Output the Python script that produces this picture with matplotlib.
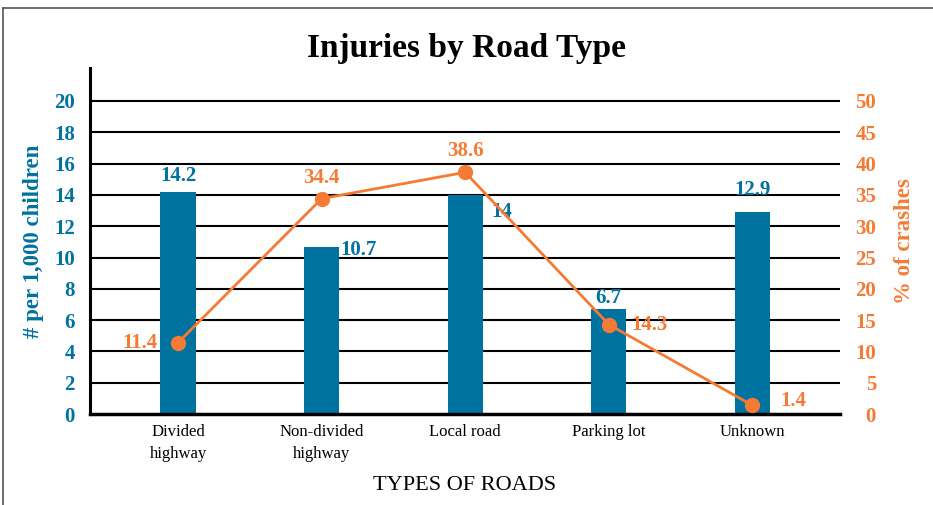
import matplotlib
matplotlib.use("Agg")
import matplotlib.pyplot as plt
from matplotlib.lines import Line2D

categories = ["Divided\nhighway", "Non-divided\nhighway", "Local road", "Parking lot", "Unknown"]
injuries = [14.2, 10.7, 14.0, 6.7, 12.9]
crashes = [11.4, 34.4, 38.6, 14.3, 1.4]
injury_labels = ["14.2", "10.7", "14", "6.7", "12.9"]
crash_labels = ["11.4", "34.4", "38.6", "14.3", "1.4"]
left_ticks = [0, 2, 4, 6, 8, 10, 12, 14, 16, 18, 20]
right_ticks = [0, 5, 10, 15, 20, 25, 30, 35, 40, 45, 50]

BLUE = "#0072A0"
ORANGE = "#F57B35"
SERIF = ["Liberation Serif", "DejaVu Serif"]

fig = plt.figure(figsize=(9.33, 5.05), dpi=100)
ax = fig.add_axes([0.0965, 0.180, 0.8038, 0.6853])
x = list(range(len(categories)))

BAR_W = 0.245
ax.set_xlim(-0.613, 4.61)
ax.set_ylim(0, 22.1)
for t in left_ticks[1:]:
    ax.axhline(t, color="black", lw=1.5, zorder=1)
ax.bar(x, injuries, width=BAR_W, color=BLUE, zorder=2)

ax.set_yticks(left_ticks)
ax.set_yticklabels([str(t) for t in left_ticks], fontfamily=SERIF, fontweight="bold",
                   fontsize=15, color=BLUE)
ax.set_xticks(x)
ax.set_xticklabels(categories, fontfamily=SERIF, fontsize=12, color="black", linespacing=1.5)
ax.tick_params(axis="both", length=0)
ax.tick_params(axis="y", pad=11)
ax.tick_params(axis="x", pad=7)
for s in ["top", "right"]:
    ax.spines[s].set_visible(False)
ax.spines["left"].set_linewidth(2.2)
ax.spines["bottom"].set_linewidth(2.5)
ax.spines["left"].set_zorder(3)
ax.spines["bottom"].set_zorder(3)

ax.set_ylabel("# per 1,000 children", fontfamily=SERIF, fontweight="bold", fontsize=16.5,
              color=BLUE, labelpad=7)
ax.set_xlabel("TYPES OF ROADS", fontfamily=SERIF, fontsize=16, color="black", labelpad=10)

# bar labels
bar_offsets = [(0, 4, "center", "bottom"), (1, 5, "left", "top"), (6, -5, "left", "top"),
               (0, 1, "center", "bottom"), (0, 9, "center", "bottom")]
bar_dx = [0, BAR_W / 2, BAR_W / 2, 0, 0]
for xi, v, lab, (ox, oy, ha, va), dx in zip(x, injuries, injury_labels, bar_offsets, bar_dx):
    ax.annotate(lab, (xi + dx, v), xytext=(ox, oy), textcoords="offset points",
                ha=ha, va=va, fontfamily=SERIF, fontweight="bold", fontsize=15,
                color=BLUE, zorder=5)

ax2 = ax.twinx()
ax2.set_ylim(0, 55.25)
ax2.plot(x, crashes, color=ORANGE, lw=2, marker="o", markersize=10, zorder=4)
ax2.set_yticks(right_ticks)
ax2.set_yticklabels([str(t) for t in right_ticks], fontfamily=SERIF, fontweight="bold",
                    fontsize=15, color=ORANGE)
for lbl in ax2.get_yticklabels():
    lbl.set_horizontalalignment("right")
ax2.tick_params(axis="y", length=0, pad=26)
for s in ax2.spines.values():
    s.set_visible(False)
ax2.set_ylabel("% of crashes", fontfamily=SERIF, fontweight="bold", fontsize=16.5,
               color=ORANGE, labelpad=13)

crash_offsets = [(-15, 0, "right", "center"), (0, 8, "center", "bottom"),
                 (0, 8, "center", "bottom"), (16, 0, "left", "center"),
                 (20, 3, "left", "center")]
for xi, v, lab, (ox, oy, ha, va) in zip(x, crashes, crash_labels, crash_offsets):
    ax2.annotate(lab, (xi, v), xytext=(ox, oy), textcoords="offset points",
                 ha=ha, va=va, fontfamily=SERIF, fontweight="bold", fontsize=15,
                 color=ORANGE, zorder=5)

fig.text(0.5, 0.903, "Injuries by Road Type", ha="center", va="center",
         fontfamily=SERIF, fontweight="bold", fontsize=24, color="black")

# frame lines (top and left)
fig.add_artist(Line2D([0.003, 1.0], [0.984, 0.984], transform=fig.transFigure,
                      color="#555555", lw=1.2))
fig.add_artist(Line2D([0.003, 0.003], [0.0, 0.984], transform=fig.transFigure,
                      color="#555555", lw=1.2))

fig.savefig("out.png", dpi=100)
